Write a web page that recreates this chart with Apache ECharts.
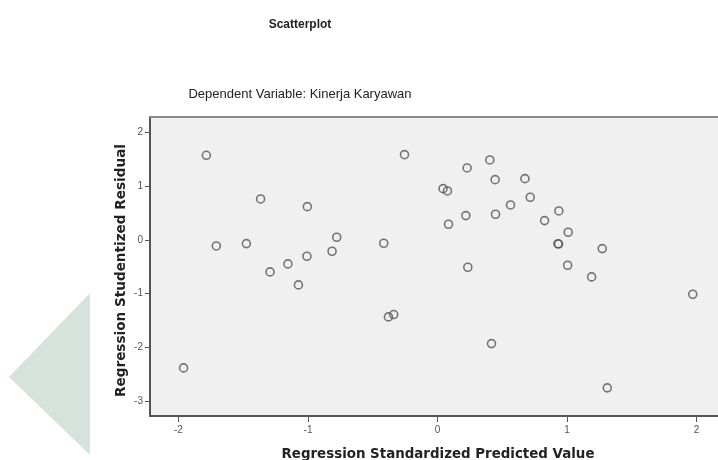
<!DOCTYPE html>
<html>
<head>
<meta charset="utf-8">
<script src="https://cdn.jsdelivr.net/npm/echarts@6/dist/echarts.min.js"></script>
<style>html,body{margin:0;padding:0;background:#fff;}#c{width:718px;height:460px;}</style>
</head>
<body>
<div id="c"></div>
<script>
var predicted = [-1.785,-1.708,-1.476,-1.366,-1.293,-1.155,-1.074,-1.005,-1.008,-0.814,-0.778,-0.415,-0.255,
  -1.961,-0.379,-0.338,
  0.229,0.404,0.445,0.675,0.043,0.077,0.716,0.564,0.937,0.219,0.448,0.827,0.085,1.009,0.930,0.935,1.272,0.234,1.005,1.190,1.971,
  0.417,1.311];
var residual = [1.577,-0.112,-0.068,0.763,-0.596,-0.447,-0.838,0.620,-0.304,-0.211,0.050,-0.062,1.589,
  -2.384,-1.434,-1.390,
  1.341,1.490,1.123,1.142,0.955,0.912,0.795,0.652,0.540,0.453,0.478,0.360,0.292,0.143,-0.070,-0.077,-0.162,-0.509,-0.472,-0.689,-1.012,
  -1.931,-2.756];
var xTicks = [-2,-1,0,1,2];
var yTicks = [-3,-2,-1,0,1,2];

var pts = predicted.map(function(x,i){return [x, residual[i]];});
var chart = echarts.init(document.getElementById('c'));
var font = '"Liberation Sans", Arial, sans-serif';
var boldFont = '"DejaVu Sans", Verdana, sans-serif';
chart.setOption({
  animation:false,
  backgroundColor:'#ffffff',
  title:[
    {text:'Scatterplot', left:295, top:14, textAlign:'center',
     textStyle:{fontFamily:font, fontSize:12, fontWeight:'bold', color:'#222'}},
    {text:'Dependent Variable: Kinerja Karyawan', left:295, top:83, textAlign:'center',
     textStyle:{fontFamily:font, fontSize:13, fontWeight:'normal', color:'#222'}}
  ],
  graphic:[
    {type:'polygon', shape:{points:[[90,293],[9,377],[90,455]]}, style:{fill:'#d6e3dc'}, silent:true},
    {type:'text', style:{text:'Regression Standardized Predicted Value', x:438, y:455, textAlign:'center', textVerticalAlign:'middle', font:'bold 13.4px "DejaVu Sans", Verdana, sans-serif', fill:'#222'}, silent:true}
  ],
  grid:{left:150, top:117, right:0, height:299, show:true, backgroundColor:'#f0f0f0', borderWidth:0},
  xAxis:[{type:'value', min:-2.22, max:2.166, interval:1,
    axisLine:{show:true, onZero:false, lineStyle:{color:'#555', width:2}},
    axisTick:{show:true, length:6, lineStyle:{color:'#555'}, customValues:xTicks},
    axisLabel:{color:'#555', fontFamily:font, fontSize:10, margin:9, customValues:xTicks},
    splitLine:{show:false}},
   {type:'value', position:'top', min:-2.22, max:2.166,
    axisLine:{show:true, onZero:false, lineStyle:{color:'#888', width:2}},
    axisTick:{show:false}, axisLabel:{show:false}, splitLine:{show:false}}],
  yAxis:{type:'value', min:-3.28, max:2.29, interval:1,
    name:'Regression Studentized Residual', nameLocation:'middle', nameGap:22, nameMoveOverlap:false,
    nameTextStyle:{fontFamily:boldFont, fontSize:13.6, fontWeight:'bold', color:'#222', padding:[0,8,0,0]},
    axisLine:{show:true, onZero:false, lineStyle:{color:'#555', width:2}},
    axisTick:{show:true, length:5, lineStyle:{color:'#555'}, customValues:yTicks},
    axisLabel:{color:'#555', fontFamily:font, fontSize:10, margin:7, customValues:yTicks},
    splitLine:{show:false}},
  series:[{type:'scatter', data:pts, symbol:'circle', symbolSize:8,
    itemStyle:{color:'rgba(0,0,0,0)', borderColor:'#555', borderWidth:1.6}}]
});
</script>
</body>
</html>
